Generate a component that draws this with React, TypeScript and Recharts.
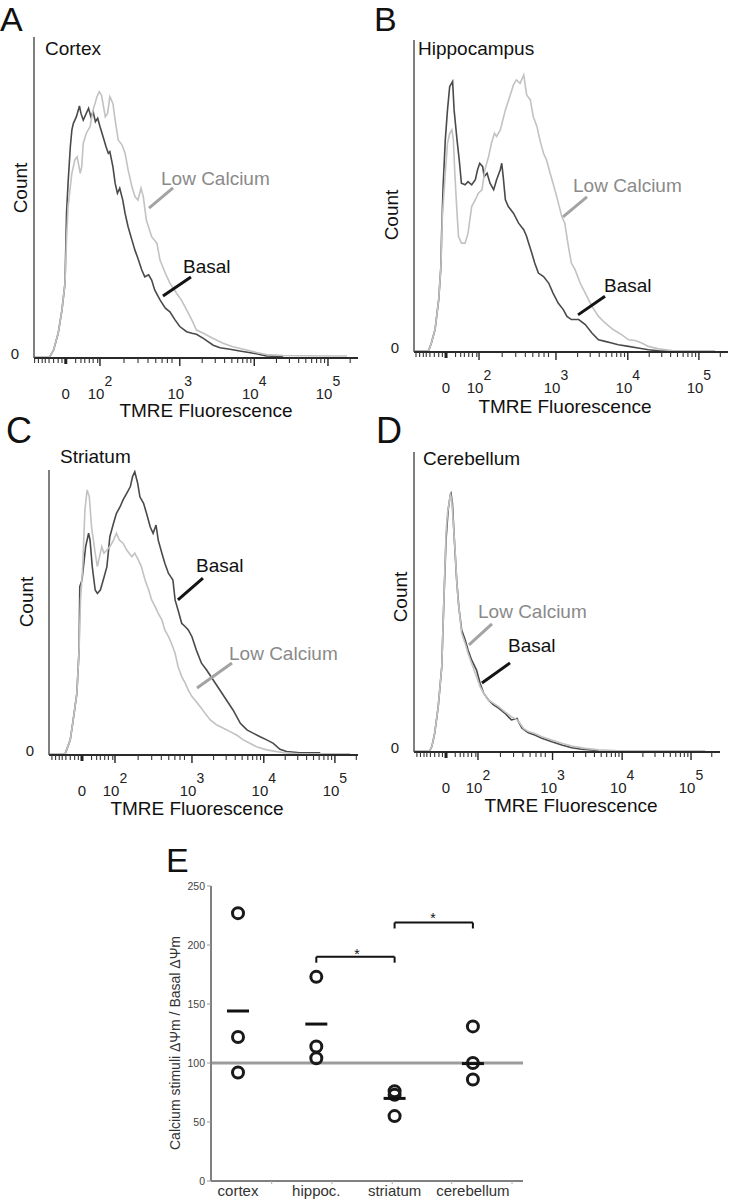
import React from 'react';
import { LineChart, Line, XAxis, YAxis, ReferenceLine, ScatterChart, Scatter } from 'recharts';

const FONT = '"Liberation Sans", Arial, Helvetica, sans-serif';

// ---------- Histogram data (x = display channel in decades, y = relative count) ----------
const cortexLowCa = [[1.14,0.4],[1.34,0.4],[1.39,2.5],[1.45,7.7],[1.50,15.0],[1.54,23.3],[1.56,36.8],[1.58,47.1],[1.61,53.4],[1.63,57.5],[1.67,61.7],[1.70,62.7],[1.74,57.5],[1.76,59.6],[1.78,66.9],[1.82,70.0],[1.87,72.1],[1.91,77.3],[1.96,81.4],[1.99,83.0],[2.02,81.9],[2.07,75.2],[2.10,76.2],[2.13,81.4],[2.17,79.3],[2.20,74.1],[2.24,67.9],[2.29,66.4],[2.33,63.8],[2.37,58.6],[2.42,53.4],[2.46,50.3],[2.50,49.2],[2.54,52.9],[2.57,50.3],[2.61,43.0],[2.68,37.8],[2.75,35.7],[2.79,30.5],[2.86,26.4],[2.92,23.3],[3.01,20.1],[3.07,18.1],[3.14,15.0],[3.21,11.8],[3.27,8.7],[3.36,7.7],[3.49,6.1],[3.62,4.6],[3.75,3.5],[3.93,2.5],[4.06,1.7],[4.19,1.1],[4.41,0.8],[5.07,0.6],[5.25,0.6]];
const cortexBasal = [[1.14,0.4],[1.34,0.4],[1.39,2.5],[1.45,7.7],[1.50,15.0],[1.54,23.3],[1.56,45.1],[1.58,54.4],[1.61,65.8],[1.63,71.0],[1.65,73.1],[1.69,75.2],[1.73,78.5],[1.75,76.2],[1.78,74.1],[1.82,76.2],[1.85,77.8],[1.88,75.2],[1.91,76.7],[1.94,73.6],[1.97,74.7],[2.00,72.1],[2.04,69.0],[2.08,65.8],[2.11,63.8],[2.13,64.3],[2.17,59.6],[2.20,54.4],[2.23,51.3],[2.26,52.9],[2.30,49.2],[2.33,45.1],[2.37,40.9],[2.42,36.8],[2.46,33.6],[2.50,31.0],[2.55,27.4],[2.59,25.3],[2.64,25.9],[2.68,24.3],[2.72,21.2],[2.79,18.1],[2.86,15.5],[2.92,14.4],[2.99,11.8],[3.05,9.8],[3.14,8.2],[3.21,7.7],[3.27,7.4],[3.36,6.1],[3.49,4.0],[3.58,3.2],[3.71,2.7],[3.84,2.2],[4.02,1.5],[4.19,0.6],[4.41,0.4]];

const hippoLowCa = [[1.11,0.2],[1.31,0.2],[1.35,2.9],[1.40,7.2],[1.45,16.8],[1.48,27.4],[1.50,43.4],[1.54,57.3],[1.57,66.9],[1.60,70.1],[1.63,71.2],[1.65,68.0],[1.67,57.3],[1.70,44.5],[1.72,37.0],[1.76,34.9],[1.81,34.9],[1.85,38.1],[1.90,46.6],[1.95,48.8],[1.99,50.9],[2.04,52.0],[2.08,58.4],[2.13,62.6],[2.17,66.9],[2.21,70.1],[2.24,69.1],[2.29,71.2],[2.36,77.6],[2.42,81.9],[2.47,85.6],[2.51,87.2],[2.56,86.1],[2.61,88.8],[2.65,82.4],[2.70,80.8],[2.74,75.5],[2.79,72.3],[2.83,68.0],[2.88,63.7],[2.92,61.6],[2.97,57.3],[3.01,54.1],[3.06,49.8],[3.13,43.4],[3.17,41.3],[3.22,33.8],[3.26,28.5],[3.31,26.4],[3.38,22.1],[3.45,18.9],[3.54,14.6],[3.63,11.4],[3.72,9.3],[3.83,7.2],[3.95,5.5],[4.04,3.9],[4.13,3.7],[4.22,2.9],[4.31,1.8],[4.45,1.0],[4.63,0.5],[4.99,0.4],[5.22,0.4]];
const hippoBasal = [[1.11,0.2],[1.31,0.2],[1.35,2.9],[1.40,7.2],[1.45,16.8],[1.48,27.4],[1.49,38.1],[1.51,53.0],[1.54,68.0],[1.57,77.6],[1.60,85.1],[1.64,86.7],[1.66,77.6],[1.70,68.0],[1.73,61.6],[1.76,54.1],[1.81,53.6],[1.85,54.6],[1.90,53.6],[1.95,55.2],[1.98,58.4],[2.01,60.5],[2.05,59.4],[2.07,56.2],[2.11,57.3],[2.15,54.1],[2.20,52.0],[2.24,55.2],[2.29,58.4],[2.31,60.5],[2.33,56.2],[2.36,48.8],[2.40,46.6],[2.47,44.5],[2.54,41.3],[2.61,39.2],[2.65,37.0],[2.67,35.4],[2.72,31.7],[2.76,28.5],[2.81,25.3],[2.88,24.2],[2.95,22.1],[3.01,18.9],[3.08,15.7],[3.15,13.6],[3.20,11.4],[3.26,10.4],[3.36,10.4],[3.45,8.8],[3.54,6.1],[3.63,3.9],[3.72,3.4],[3.81,2.9],[3.90,2.3],[4.04,1.8],[4.17,1.3],[4.31,0.7],[4.45,0.4],[4.63,0.2]];

const striatumLowCa = [[1.10,0.4],[1.32,0.4],[1.34,1.8],[1.39,5.3],[1.43,12.3],[1.48,21.6],[1.51,36.8],[1.53,54.4],[1.56,66.1],[1.59,86.0],[1.62,93.0],[1.65,90.6],[1.68,80.1],[1.73,70.8],[1.76,66.1],[1.79,69.6],[1.82,73.1],[1.85,70.8],[1.89,71.9],[1.93,73.1],[1.98,75.4],[2.02,77.8],[2.06,75.4],[2.11,74.3],[2.16,71.9],[2.23,69.6],[2.27,70.8],[2.32,68.4],[2.36,66.1],[2.41,61.4],[2.46,57.9],[2.50,54.4],[2.55,52.0],[2.59,49.7],[2.64,47.4],[2.68,43.9],[2.73,41.5],[2.77,39.2],[2.82,35.7],[2.86,31.0],[2.91,27.5],[2.96,25.1],[3.00,22.8],[3.05,20.5],[3.09,19.3],[3.16,17.0],[3.23,14.6],[3.30,12.3],[3.39,10.5],[3.48,9.4],[3.57,8.2],[3.66,7.0],[3.75,5.3],[3.84,4.1],[3.93,2.9],[4.07,1.8],[4.30,0.8],[4.52,0.4],[5.21,0.4]];
const striatumBasal = [[1.10,0.4],[1.32,0.4],[1.34,1.8],[1.39,5.3],[1.43,12.3],[1.48,21.6],[1.51,36.8],[1.52,59.1],[1.55,61.4],[1.57,66.1],[1.60,73.1],[1.64,77.8],[1.66,75.4],[1.69,66.1],[1.73,57.9],[1.76,56.7],[1.80,57.9],[1.84,61.4],[1.89,66.1],[1.93,76.6],[1.98,81.3],[2.02,84.8],[2.07,87.1],[2.11,89.5],[2.16,91.8],[2.21,94.2],[2.24,97.7],[2.27,99.4],[2.31,95.3],[2.34,90.6],[2.39,88.3],[2.43,84.8],[2.48,80.1],[2.52,77.8],[2.56,80.7],[2.59,75.4],[2.64,70.8],[2.68,67.3],[2.73,63.7],[2.76,62.6],[2.79,61.4],[2.82,54.4],[2.86,50.9],[2.91,46.2],[2.96,45.0],[3.00,43.9],[3.05,41.5],[3.11,36.8],[3.18,32.2],[3.25,29.8],[3.34,26.3],[3.43,22.8],[3.52,19.3],[3.61,15.8],[3.71,11.1],[3.80,8.8],[3.89,7.6],[3.98,6.4],[4.07,5.3],[4.16,4.1],[4.25,2.0],[4.34,1.2],[4.52,0.8],[4.80,0.8]];

const cerebellumLowCa = [[1.10,0.4],[1.32,0.4],[1.35,1.8],[1.39,6.2],[1.44,15.1],[1.49,28.4],[1.52,50.7],[1.55,72.9],[1.57,79.6],[1.60,84.0],[1.61,86.2],[1.63,84.0],[1.65,77.3],[1.68,66.2],[1.70,57.3],[1.72,50.7],[1.77,39.6],[1.82,36.2],[1.86,32.9],[1.91,29.6],[1.98,25.1],[2.03,21.8],[2.08,19.6],[2.15,17.3],[2.22,16.2],[2.29,15.1],[2.38,13.4],[2.47,11.8],[2.55,10.7],[2.59,9.6],[2.64,7.9],[2.71,6.8],[2.80,6.2],[2.90,5.1],[3.04,4.0],[3.18,2.9],[3.32,2.0],[3.51,1.2],[3.70,0.7],[3.98,0.4],[5.20,0.4]];
const cerebellumBasal = [[1.10,0.4],[1.32,0.4],[1.35,1.8],[1.39,6.2],[1.44,15.1],[1.49,28.4],[1.52,50.7],[1.55,70.7],[1.58,80.7],[1.61,85.7],[1.62,86.2],[1.64,82.9],[1.67,69.6],[1.70,57.3],[1.73,48.4],[1.77,40.7],[1.82,37.3],[1.86,34.0],[1.91,30.7],[1.98,27.3],[2.03,22.9],[2.08,19.6],[2.15,17.3],[2.22,15.7],[2.29,14.6],[2.38,12.9],[2.47,10.7],[2.55,11.2],[2.57,10.1],[2.62,7.9],[2.71,6.4],[2.80,5.7],[2.90,4.6],[3.04,3.4],[3.18,2.3],[3.32,1.4],[3.46,0.9],[3.60,0.7],[3.70,0.4]];

// ---------- Axis ticks (display channel) ----------
const ZERO_TICK = 1.55;
const MAJOR_TICKS = [2, 3.05, 4.03, 5.0];
const MAJOR_EXPONENTS = ['2', '3', '4', '5'];
const MINOR_TICKS = [1.14,1.19,1.24,1.28,1.33,1.39,1.45,1.50,1.68,1.75,1.80,1.86,1.91,1.97,
  2.316,2.501,2.632,2.734,2.817,2.887,2.948,
  3.345,3.517,3.640,3.735,3.812,3.878,3.935,3.985,
  4.322,4.493,4.614,4.708,4.785,4.850,4.906,4.955,
  5.292];
const HIST_TICKS = [...MINOR_TICKS, ZERO_TICK, ...MAJOR_TICKS].sort((a, b) => a - b);

// ---------- Panel E data ----------
const CATEGORIES = ['cortex', 'hippoc.', 'striatum', 'cerebellum'];
const cortexRatios = [227, 122, 92];
const hippocRatios = [173, 114, 104];
const striatumRatios = [76, 73, 55];
const cerebellumRatios = [131, 100, 86];
const MEANS = [144, 133, 70, 99.5];
const E_Y_TICKS = [0, 50, 100, 150, 200, 250];
const E_MINOR_X = [1.43, 2.2, 2.97, 3.73, 4.5];

const toPts = (arr: number[][]) => arr.map(([x, y]) => ({ x, y }));

const AXW = 30; // y-axis width used inside each chart
const AXH = 30; // x-axis height used inside each chart

function HistTick(props: any) {
  const { x, y, payload } = props;
  const v = payload.value;
  const mi = MAJOR_TICKS.indexOf(v);
  if (v === ZERO_TICK) {
    return (
      <g>
        <line x1={x} x2={x} y1={y} y2={y + 6} stroke="#222" strokeWidth={3} />
        <text x={x} y={y + 41} textAnchor="middle" fontSize={15} fill="#222" fontFamily={FONT}>0</text>
      </g>
    );
  }
  if (mi >= 0) {
    return (
      <g>
        <line x1={x} x2={x} y1={y} y2={y + 8} stroke="#222" strokeWidth={1.4} />
        <text x={x} y={y + 41} textAnchor="middle" fontSize={15} fill="#222" fontFamily={FONT}>
          10<tspan dy={-13} fontSize={14}>{MAJOR_EXPONENTS[mi]}</tspan>
        </text>
      </g>
    );
  }
  return <line x1={x} x2={x} y1={y} y2={y + 5} stroke="#333" strokeWidth={1.1} />;
}

function ZeroYTick(props: any) {
  const { x, y } = props;
  return <text x={x} y={y + 1} textAnchor="end" fontSize={15} fill="#222" fontFamily={FONT}>0</text>;
}

type Seg = number[][];
interface HistProps {
  left: number; top: number; width: number; height: number;
  axisX: number; axisTop: number; axisY: number; axisRight: number;
  domain: [number, number];
  basal: number[][]; lowCa: number[][];
  basalPointer: Seg; lowCaPointer: Seg;
}

function HistPanel(p: HistProps) {
  const margin = { left: p.axisX - AXW, top: p.axisTop, right: p.width - p.axisRight, bottom: p.height - p.axisY - AXH };
  return (
    <div style={{ position: 'absolute', left: p.left, top: p.top }}>
      <LineChart width={p.width} height={p.height} margin={margin}>
        <XAxis type="number" dataKey="x" domain={p.domain} allowDataOverflow ticks={HIST_TICKS} interval={0}
          height={AXH} tickSize={0} tickMargin={0} tickLine={false}
          axisLine={{ stroke: '#2a2a2a', strokeWidth: 2 }} tick={(t: any) => <HistTick {...t} />} />
        <YAxis type="number" dataKey="y" domain={[0, 100]} allowDataOverflow ticks={[0]} width={AXW}
          tickSize={0} tickMargin={15} tickLine={false}
          axisLine={{ stroke: '#555', strokeWidth: 1.5 }} tick={(t: any) => <ZeroYTick {...t} />} />
        <Line data={toPts(p.basal)} dataKey="y" type="linear" dot={false} stroke="#4a4a4a" strokeWidth={1.6} isAnimationActive={false} />
        <Line data={toPts(p.lowCa)} dataKey="y" type="linear" dot={false} stroke="#c2c2c2" strokeWidth={1.6} isAnimationActive={false} />
        <ReferenceLine segment={[{ x: p.lowCaPointer[0][0], y: p.lowCaPointer[0][1] }, { x: p.lowCaPointer[1][0], y: p.lowCaPointer[1][1] }]}
          stroke="#a3a3a3" strokeWidth={3} ifOverflow="visible" />
        <ReferenceLine segment={[{ x: p.basalPointer[0][0], y: p.basalPointer[0][1] }, { x: p.basalPointer[1][0], y: p.basalPointer[1][1] }]}
          stroke="#141414" strokeWidth={3} ifOverflow="visible" />
      </LineChart>
    </div>
  );
}

function ETick(props: any) {
  const { x, y, payload } = props;
  const v = payload.value;
  if (Number.isInteger(v)) {
    return <text x={x} y={y + 15} textAnchor="middle" fontSize={15} fill="#333" fontFamily={FONT}>{CATEGORIES[v - 1]}</text>;
  }
  return <line x1={x} x2={x} y1={y} y2={y + 3} stroke="#aaa" strokeWidth={1} />;
}

const circleShape = (s: any) => <circle cx={s.cx} cy={s.cy} r={5.5} fill="none" stroke="#1a1a1a" strokeWidth={3} />;
const meanShape = (s: any) => <line x1={s.cx - 11} x2={s.cx + 11} y1={s.cy} y2={s.cy} stroke="#111" strokeWidth={3} />;

function PanelE() {
  const groups = [cortexRatios, hippocRatios, striatumRatios, cerebellumRatios];
  const points = groups.flatMap((vals, i) => vals.map((v) => ({ x: i + 1, y: v })));
  const means = MEANS.map((m, i) => ({ x: i + 1, y: m }));
  const br = { stroke: '#111', strokeWidth: 2, ifOverflow: 'visible' as const };
  return (
    <div style={{ position: 'absolute', left: 160, top: 830 }}>
      <ScatterChart width={400} height={369} margin={{ top: 56, left: 11, right: 37, bottom: 0 }}>
        <XAxis type="number" dataKey="x" domain={[0.655, 4.64]} allowDataOverflow ticks={[1, 2, 3, 4, ...E_MINOR_X]} interval={0}
          height={18} tickSize={0} tickMargin={0} tickLine={false}
          axisLine={{ stroke: '#808080', strokeWidth: 2 }} tick={(t: any) => <ETick {...t} />} />
        <YAxis type="number" dataKey="y" domain={[0, 250]} ticks={E_Y_TICKS} interval={0} width={40}
          tickSize={4} tickMargin={2} tickLine={{ stroke: '#999' }}
          axisLine={{ stroke: '#808080', strokeWidth: 2 }} tick={{ fontSize: 10.5, fill: '#444', fontFamily: FONT }} />
        <ReferenceLine y={100} stroke="#9b9b9b" strokeWidth={3} />
        <ReferenceLine segment={[{ x: 2, y: 185 }, { x: 2, y: 190 }]} {...br} />
        <ReferenceLine segment={[{ x: 2, y: 190 }, { x: 3, y: 190 }]} {...br} />
        <ReferenceLine segment={[{ x: 3, y: 190 }, { x: 3, y: 185 }]} {...br} />
        <ReferenceLine segment={[{ x: 3, y: 214 }, { x: 3, y: 219 }]} {...br} />
        <ReferenceLine segment={[{ x: 3, y: 219 }, { x: 4, y: 219 }]} {...br} />
        <ReferenceLine segment={[{ x: 4, y: 219 }, { x: 4, y: 214 }]} {...br} />
        <Scatter data={points} shape={circleShape} isAnimationActive={false} />
        <Scatter data={means} shape={meanShape} isAnimationActive={false} />
      </ScatterChart>
    </div>
  );
}

interface TextItem { t: string; x: number; y: number; size: number; color?: string; anchor?: string; rot?: boolean; }
const TEXTS: TextItem[] = [
  { t: 'A', x: 0, y: 31, size: 34 },
  { t: 'Cortex', x: 45, y: 55, size: 19 },
  { t: 'Count', x: 27, y: 188, size: 19, rot: true },
  { t: 'Low Calcium', x: 161, y: 185, size: 19, color: '#8a8a8a' },
  { t: 'Basal', x: 183, y: 273, size: 19 },
  { t: 'TMRE Fluorescence', x: 206, y: 417, size: 19, anchor: 'middle' },

  { t: 'B', x: 374, y: 31, size: 34 },
  { t: 'Hippocampus', x: 418, y: 55, size: 19 },
  { t: 'Count', x: 398, y: 215, size: 19, rot: true },
  { t: 'Low Calcium', x: 573, y: 192, size: 19, color: '#8a8a8a' },
  { t: 'Basal', x: 604, y: 292, size: 19 },
  { t: 'TMRE Fluorescence', x: 565, y: 413, size: 19, anchor: 'middle' },

  { t: 'C', x: 6, y: 443, size: 36 },
  { t: 'Striatum', x: 60, y: 463, size: 19 },
  { t: 'Count', x: 33, y: 602, size: 19, rot: true },
  { t: 'Basal', x: 196, y: 572, size: 19 },
  { t: 'Low Calcium', x: 229, y: 660, size: 19, color: '#8a8a8a' },
  { t: 'TMRE Fluorescence', x: 197, y: 815, size: 19, anchor: 'middle' },

  { t: 'D', x: 376, y: 443, size: 36 },
  { t: 'Cerebellum', x: 423, y: 465, size: 19 },
  { t: 'Count', x: 407, y: 597, size: 19, rot: true },
  { t: 'Low Calcium', x: 478, y: 618, size: 19, color: '#8a8a8a' },
  { t: 'Basal', x: 508, y: 652, size: 19 },
  { t: 'TMRE Fluorescence', x: 571, y: 812, size: 19, anchor: 'middle' },

  { t: 'E', x: 166, y: 872, size: 34 },
  { t: 'Calcium stimuli ΔΨm / Basal ΔΨm', x: 180, y: 1043, size: 14, rot: true, color: '#333' },
  { t: '*', x: 357, y: 959, size: 14, anchor: 'middle' },
  { t: '*', x: 433, y: 923, size: 14, anchor: 'middle' },
];

function Overlay() {
  return (
    <svg width={731} height={1199} style={{ position: 'absolute', left: 0, top: 0, pointerEvents: 'none' }}>
      {TEXTS.map((d, i) => (
        <text key={i} x={d.x} y={d.y} fontSize={d.size} fill={d.color || '#111'} fontFamily={FONT}
          textAnchor={d.rot ? 'middle' : (d.anchor || 'start')}
          transform={d.rot ? `rotate(-90 ${d.x} ${d.y})` : undefined}>{d.t}</text>
      ))}
    </svg>
  );
}

export default function App() {
  return (
    <div style={{ position: 'absolute', left: 0, top: 0, width: 731, height: 1199, background: '#fff', overflow: 'hidden', fontFamily: FONT }}>
      <HistPanel left={0} top={0} width={365} height={420} axisX={34} axisTop={37} axisY={358} axisRight={358}
        domain={[1.132, 5.395]} basal={cortexBasal} lowCa={cortexLowCa}
        lowCaPointer={[[2.645, 46.7], [2.961, 53.0]]} basalPointer={[[2.829, 19.3], [3.197, 25.2]]} />
      <HistPanel left={365} top={0} width={366} height={420} axisX={49} axisTop={40} axisY={352} axisRight={363}
        domain={[1.113, 5.397]} basal={hippoBasal} lowCa={hippoLowCa}
        lowCaPointer={[[3.146, 43.3], [3.473, 49.7]]} basalPointer={[[3.351, 11.9], [3.719, 17.9]]} />
      <HistPanel left={0} top={400} width={365} height={420} axisX={49} axisTop={70} axisY={355} axisRight={358}
        domain={[1.1, 5.315]} basal={striatumBasal} lowCa={striatumLowCa}
        lowCaPointer={[[3.119, 23.5], [3.596, 32.3]]} basalPointer={[[2.859, 54.4], [3.2, 62.1]]} />
      <HistPanel left={365} top={400} width={366} height={420} axisX={49} axisTop={52} axisY={352} axisRight={355}
        domain={[1.099, 5.408]} basal={cerebellumBasal} lowCa={cerebellumLowCa}
        lowCaPointer={[[1.873, 35.7], [2.197, 42.7]]} basalPointer={[[2.056, 23.0], [2.451, 29.7]]} />
      <PanelE />
      <Overlay />
    </div>
  );
}
